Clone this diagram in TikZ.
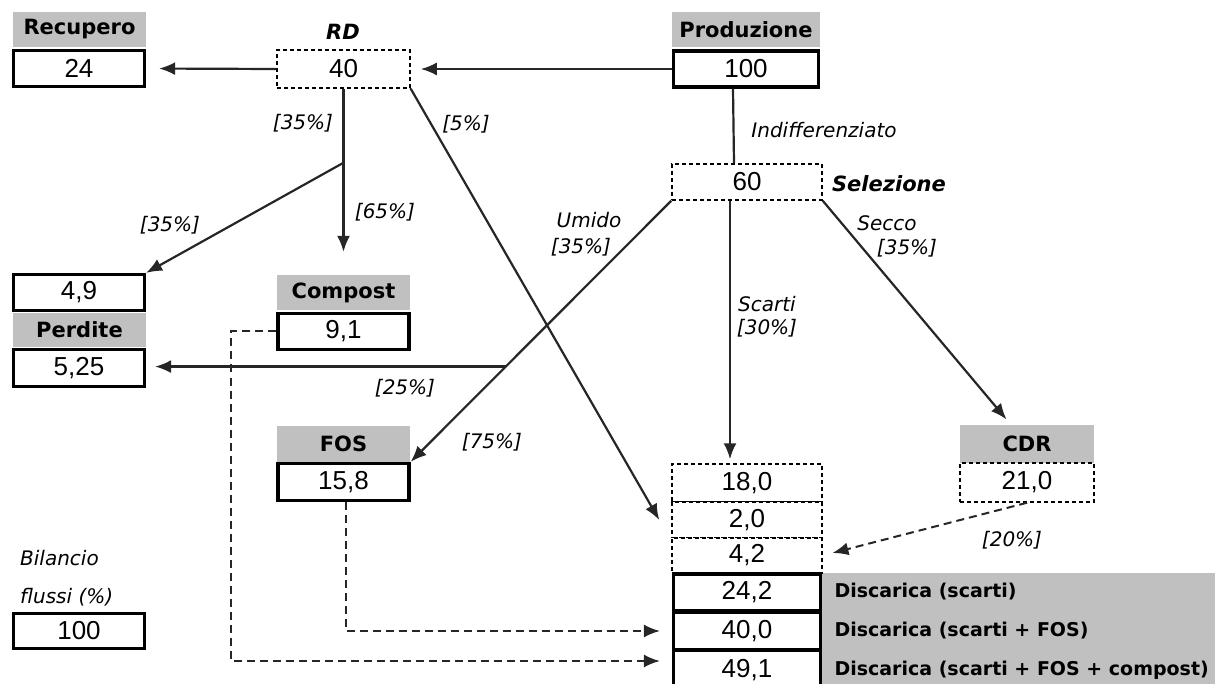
\documentclass[tikz,border=0pt]{standalone}
\usepackage{fontspec}
\usetikzlibrary{arrows.meta,calc}
\newfontfamily\numfam{Liberation Sans}
\newfontfamily\dvfam{DejaVu Sans}
\definecolor{hdgray}{HTML}{C0C0C0}
\newcommand{\numfont}{\numfam\fontsize{26}{30}\selectfont}
\newcommand{\hdfont}{\dvfam\bfseries\fontsize{21}{25}\selectfont}
\newcommand{\discfont}{\dvfam\bfseries\fontsize{19}{23}\selectfont}
\newcommand{\ttlfont}{\dvfam\bfseries\itshape\fontsize{21}{25}\selectfont}
\newcommand{\lbfont}{\dvfam\itshape\fontsize{20}{24}\selectfont}
\begin{document}
\begin{tikzpicture}[x=1pt,y=-1pt,
  hd/.style={fill=hdgray,inner sep=0pt,minimum width=133pt,minimum height=35pt,font=\hdfont},
  val/.style={draw,line width=3.2pt,fill=white,inner sep=0pt,minimum width=131pt,minimum height=36pt,font=\numfont},
  dval/.style={draw,line width=1.5pt,dash pattern=on 4pt off 3pt,fill=white,inner sep=0pt,minimum width=133pt,minimum height=38pt,font=\numfont},
  lb/.style={font=\lbfont,inner sep=0pt},
  ln/.style={line width=2.2pt,draw=black!85},
  arr/.style={ln,-{Latex[length=16pt,width=13pt]}},
  darr/.style={line width=2pt,draw=black!85,dash pattern=on 8pt off 5pt,-{Latex[length=16pt,width=13pt]}}]
	\useasboundingbox (0,0) rectangle (1215,684);
	\fill[hdgray] (822,573) rectangle (1215,684);
	% colonna sinistra
	\node[hd] (hrec) at (79.5,29.5) {Recupero};
	\node[val] (rec) at (79,68.5) {24};
	\node[val] (per1) at (79,292.5) {4,9};
	\node[hd,minimum height=34pt] (hper) at (79.5,330) {Perdite};
	\node[val,minimum height=37pt] (per2) at (79,368) {5,25};
	\node[lb,anchor=west] (bil1) at (20,558) {Bilancio};
	\node[lb,anchor=west] (bil2) at (20,597) {flussi (\%)};
	\node[val,minimum height=35pt] (bil) at (79,631) {100};
	% RD, compost, FOS
	\node[font=\ttlfont] (rdl) at (343,32) {RD};
	\node[dval] (rd) at (343.5,69) {40};
	\node[hd] (hcomp) at (343.5,292.5) {Compost};
	\node[val] (comp) at (343.5,331.5) {9,1};
	\node[hd,minimum height=36pt] (hfos) at (343.5,443.5) {FOS};
	\node[val,minimum height=37pt] (fos) at (343.5,482) {15,8};
	% produzione e selezione
	\node[hd,minimum width=148pt] (hprod) at (746,30) {Produzione};
	\node[val,minimum width=145pt] (prod) at (746,69) {100};
	\node[dval,minimum width=150pt,minimum height=36pt] (sel) at (747,182) {60};
	\node[font=\ttlfont] (sell) at (889,184) {Selezione};
	\node[hd,minimum width=134pt,minimum height=38pt] (hcdr) at (1027,444) {CDR};
	\node[dval,minimum width=134pt,minimum height=39pt] (cdr) at (1027,482.5) {21,0};
	% discarica
	\node[dval,minimum width=150pt] (s1) at (747,483) {18,0};
	\node[dval,minimum width=150pt,minimum height=36pt] (s2) at (747,520) {2,0};
	\node[dval,minimum width=150pt,minimum height=35pt] (s3) at (747,555.5) {4,2};
	\node[val,minimum width=147pt,minimum height=37pt] (d1) at (747,592.5) {24,2};
	\node[val,minimum width=147pt,minimum height=37pt] (d2) at (747,631) {40,0};
	\node[val,minimum width=147pt,minimum height=39pt] (d3) at (747,670) {49,1};
	\node[font=\discfont,anchor=west] (t1) at (831,592) {Discarica (scarti)};
	\node[font=\discfont,anchor=west] (t2) at (831,631) {Discarica (scarti + FOS)};
	\node[font=\discfont,anchor=west] (t3) at (831,670) {Discarica (scarti + FOS + compost)};
	% flussi
	\coordinate (rdbr) at ($(rd.south)+(0,74)$);
	\coordinate (perj) at ($(sel.south west)!0.635!(fos.north east)$);
	\draw[arr,shorten >=10pt] (prod.west) -- (rd.east);
	\draw[arr,shorten >=13pt] (rd.west) -- (rec.east);
	\draw[arr,shorten >=23pt] (rd.south) -- (hcomp.north);
	\draw[arr] (rdbr) -- (per1.north east);
	\draw[arr] (rd.south east) -- ([xshift=-12pt]s2.west);
	\draw[ln] ([xshift=-13pt]prod.south) -- ([xshift=-13pt]sel.north);
	\draw[arr,shorten >=4pt] ([xshift=-17pt]sel.south) -- ([xshift=-17pt]s1.north);
	\draw[arr] (sel.south west) -- (fos.north east);
	\draw[arr,shorten >=9pt] (perj) -- (perj -| per2.east);
	\draw[arr,shorten >=7pt] (sel.south east) -- ([xshift=-16pt]hcdr.north);
	\draw[darr,shorten >=10pt] (cdr.south) -- (s3.east);
	\draw[darr] ([xshift=2pt]fos.south) |- ([xshift=-12pt]d2.west);
	\draw[darr] (comp.west) -- ++(-45,0) |- ([xshift=-12pt,yshift=9pt]d3.west);
	% etichette
	\node[lb] (p1) at (303,123) {[35\%]};
	\node[lb] (p2) at (466,124) {[5\%]};
	\node[lb] (p3) at (170,225) {[35\%]};
	\node[lb] (p4) at (385,212) {[65\%]};
	\node[lb] (ind) at (824,130) {Indifferenziato};
	\node[lb] (um) at (589,220) {Umido};
	\node[lb] (p5) at (581,247) {[35\%]};
	\node[lb] (sec) at (887,223) {Secco};
	\node[lb] (p6) at (907,248) {[35\%]};
	\node[lb] (sca) at (767,304) {Scarti};
	\node[lb] (p7) at (767,328) {[30\%]};
	\node[lb] (p8) at (405,388) {[25\%]};
	\node[lb] (p9) at (492,442) {[75\%]};
	\node[lb] (p10) at (1012,540) {[20\%]};
\end{tikzpicture}
\end{document}
